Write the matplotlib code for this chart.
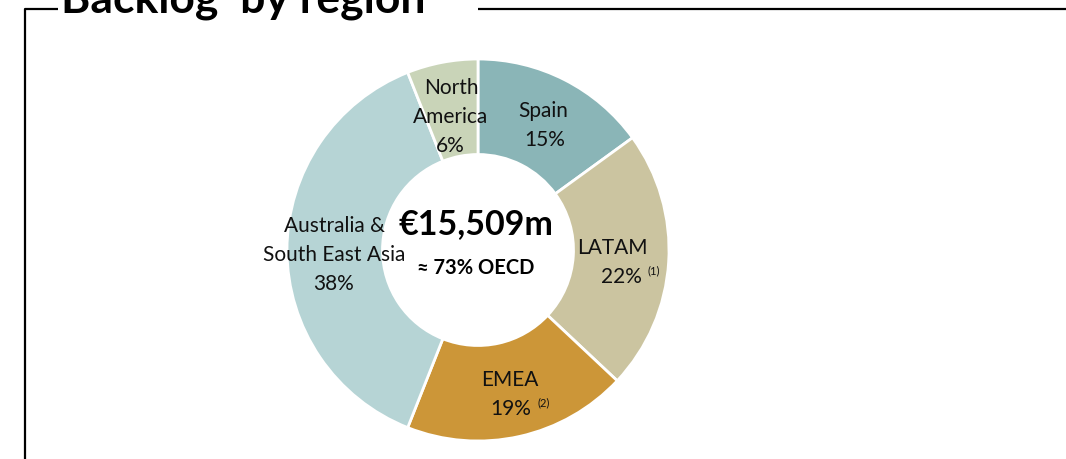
import matplotlib
matplotlib.use("Agg")
import matplotlib.pyplot as plt

regions = ["Spain", "LATAM", "EMEA", "Australia &\nSouth East Asia", "North\nAmerica"]
shares = [15, 22, 19, 38, 6]
notes = ["", "(1)", "(2)", "", ""]
colors = ["#8AB5B7", "#CBC4A0", "#CC9638", "#B6D4D5", "#C9D4B8"]
total_label = "€15,509m"
sub_label = "≈ 73% OECD"
title = "Backlog  by region"

W, H = 1066, 460
fig = plt.figure(figsize=(W / 100, H / 100), dpi=100)
ax = fig.add_axes([0, 0, 1, 1])

plt.rcParams["font.family"] = ["Lato", "DejaVu Sans"]

cx, cy, R = 478, H - 251, 191
ax.pie(shares, colors=colors, startangle=90, counterclock=False,
       center=(cx, cy), radius=R, frame=True,
       wedgeprops=dict(width=R * 0.5, edgecolor="white", linewidth=2))
ax.set_xlim(0, W)
ax.set_ylim(0, H)
ax.set_aspect("equal")
ax.axis("off")

# label anchors: (x of name lines, y of first line, x offset of percentage line) in pixels
label_pos = [(543, 111, 2), (612, 248, 9), (510, 380, 1), (334, 226, 0), (451, 88, -1)]
step = 29
for name, v, note, (px, py, dx) in zip(regions, shares, notes, label_pos):
    lines = name.split("\n")
    for i, ln in enumerate(lines):
        ax.text(px, H - (py + i * step), ln, ha="center", va="center",
                fontsize=15, color="#111111")
    yp = py + len(lines) * step
    t = ax.text(px + dx, H - yp, f"{v}%", ha="center", va="center",
                fontsize=15, color="#111111")
    if note:
        ax.text(px + dx + 26, H - yp + 6, note, ha="left", va="center",
                fontsize=8, color="#111111")

ax.text(cx - 2, H - 224, total_label, ha="center", va="center",
        fontsize=24.5, fontweight="bold", color="black")
ax.text(cx - 2, H - 268, sub_label, ha="center", va="center",
        fontsize=14.5, fontweight="bold", color="black")

# frame
ax.plot([25, 25, 58], [0, H - 10, H - 10], color="black", lw=1.6, solid_capstyle="butt")
ax.plot([478, W], [H - 10, H - 10], color="black", lw=1.6, solid_capstyle="butt")
ax.text(61, H - 13, title, ha="left", va="baseline", fontsize=32,
        fontweight="bold", color="black")

fig.savefig("out.png", dpi=100)
